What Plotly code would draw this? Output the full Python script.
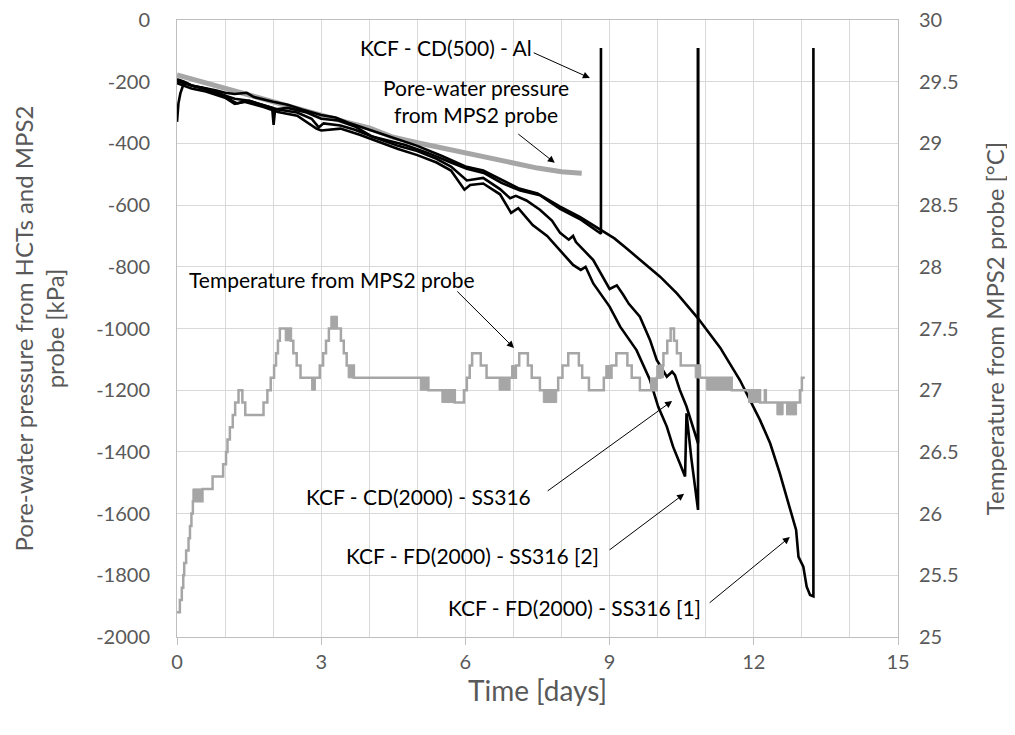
import plotly.graph_objects as go

# ---------------- data ----------------
# HCT pore-water pressure series (time in days, pressure in kPa)
cd500_day = [0, 0.03, 0.07, 0.12, 0.2, 0.35, 0.6, 0.9, 1.2, 1.5, 1.8, 1.98, 2.01, 2.04, 2.3, 2.7, 3.0, 3.36, 3.7,
             4.06, 4.75, 5.2, 5.7, 6.03, 6.4, 6.75, 7.14, 7.55, 7.97, 8.38, 8.82, 8.82]
cd500_kpa = [-330, -270, -238, -215, -205, -215, -225, -240, -255, -262, -275, -285, -340, -290, -285, -300, -320,
             -326, -345, -378, -405, -430, -462, -482, -497, -528, -553, -568, -612, -645, -693, -91]

fd1_day = [0, 0.15, 0.3, 0.5, 0.8, 1.0, 1.2, 1.45, 1.6, 2.0, 2.3, 2.6, 3.0, 3.3, 3.6, 4.0, 4.6, 5.0, 5.5, 6.0,
           6.37, 6.7, 7.1, 7.5, 7.97, 8.38, 8.8, 9.1, 9.35, 9.7, 10.05, 10.4, 10.84, 11.3, 11.71, 12.13, 12.34,
           12.54, 12.75, 12.88, 12.93, 13.03, 13.1, 13.17, 13.24, 13.24]
fd1_kpa = [-192, -200, -212, -218, -228, -236, -240, -236, -250, -265, -275, -290, -308, -316, -335, -356, -386,
           -408, -440, -475, -488, -515, -545, -562, -605, -638, -680, -708, -740, -785, -832, -886, -967, -1062,
           -1167, -1297, -1372, -1469, -1578, -1653, -1740, -1772, -1837, -1864, -1868, -91]

cd2000_day = [0, 0.3, 0.6, 1.0, 1.15, 1.25, 1.5, 1.8, 2.1, 2.5, 2.8, 2.95, 3.05, 3.4, 3.7, 4.1, 4.6, 5.0, 5.4,
              5.7, 6.03, 6.37, 6.72, 6.93, 7.05, 7.27, 7.55, 7.8, 7.97, 8.15, 8.24, 8.3, 8.66, 9.0, 9.15, 9.28,
              9.4, 9.63, 9.84, 9.98, 10.19, 10.3, 10.36, 10.46, 10.6, 10.84, 10.84]
cd2000_kpa = [-198, -212, -222, -245, -262, -270, -262, -275, -290, -300, -320, -348, -335, -342, -356, -380,
              -408, -425, -450, -475, -520, -512, -548, -578, -570, -585, -615, -650, -690, -712, -700, -720,
              -778, -872, -860, -890, -920, -962, -1037, -1102, -1156, -1140, -1151, -1199, -1253, -1372, -91]

fd2_day = [0, 0.3, 0.6, 1.0, 1.2, 1.4, 1.8, 2.1, 2.5, 2.9, 3.0, 3.4, 3.8, 4.2, 4.6, 5.0, 5.4, 5.7, 5.98, 6.1,
           6.37, 6.72, 6.95, 7.1, 7.4, 7.7, 7.97, 8.24, 8.4, 8.5, 8.66, 9.0, 9.22, 9.56, 9.84, 10.01, 10.19,
           10.32, 10.46, 10.57, 10.6, 10.7, 10.84, 10.84]
fd2_kpa = [-205, -222, -232, -252, -272, -265, -282, -298, -310, -352, -358, -352, -372, -395, -418, -438, -462,
           -488, -550, -535, -530, -565, -625, -610, -665, -700, -746, -794, -810, -800, -854, -929, -994, -1070,
           -1167, -1253, -1318, -1383, -1437, -1480, -1275, -1420, -1588, -91]

# MPS2 probe pore-water pressure
pwp_day = [0, 0.5, 1.0, 1.5, 2.0, 2.5, 3.0, 3.5, 4.0, 4.5, 5.0, 5.5, 6.0, 6.5, 7.0, 7.5, 8.0, 8.42]
pwp_kpa = [-178, -200, -222, -245, -265, -287, -308, -330, -350, -380, -398, -414, -430, -448, -465, -480, -492, -497]

# MPS2 probe temperature (step changes, value holds until next point)
temp_day = [0.00, 0.06, 0.10, 0.13, 0.15, 0.19, 0.24, 0.27, 0.30, 0.33, 0.53, 0.74, 0.96, 1.02, 1.05, 1.10, 1.16,
            1.21, 1.28, 1.36, 1.42, 1.80, 1.88, 1.95, 2.02, 2.06, 2.10, 2.14, 2.37, 2.42, 2.49, 2.57, 2.90, 2.97,
            3.04, 3.10, 3.16, 3.36, 3.41, 3.47, 3.53, 3.68, 5.23, 5.78, 5.97, 6.03, 6.09, 6.14, 6.32, 6.44, 6.93,
            7.05, 7.12, 7.30, 7.38, 7.55, 7.93, 8.02, 8.14, 8.36, 8.43, 8.57, 8.88, 9.04, 9.14, 9.37, 9.46, 9.63,
            9.98, 10.05, 10.12, 10.20, 10.27, 10.34, 10.40, 10.48, 10.88, 11.54, 12.13, 12.23, 12.25, 12.96,
            13.00, 13.06]
temp_val = [25.2, 25.3, 25.4, 25.5, 25.6, 25.7, 25.8, 25.9, 26.0, 26.1, 26.2, 26.3, 26.4, 26.5, 26.6, 26.7, 26.8,
            26.9, 27.0, 26.9, 26.8, 26.9, 27.0, 27.1, 27.2, 27.3, 27.4, 27.5, 27.4, 27.3, 27.2, 27.1, 27.1, 27.2,
            27.3, 27.4, 27.5, 27.5, 27.4, 27.3, 27.2, 27.1, 27.0, 26.9, 27.0, 27.1, 27.2, 27.3, 27.2, 27.1, 27.1,
            27.2, 27.3, 27.2, 27.1, 27.0, 27.1, 27.2, 27.3, 27.2, 27.1, 27.0, 27.1, 27.2, 27.3, 27.2, 27.1, 27.0,
            27.1, 27.2, 27.3, 27.4, 27.5, 27.4, 27.3, 27.2, 27.1, 27.0, 26.9, 27.0, 26.9, 27.0,
            27.1, 27.1]
# intervals where the temperature reading toggled rapidly between two adjacent levels (low, low + 0.1)
osc_start = [0.33, 2.25, 2.80, 3.20, 3.56, 5.06, 5.51, 6.70, 6.96, 7.62, 8.92, 9.85, 9.98, 10.78, 11.02, 11.89, 12.48, 12.68]
osc_end = [0.53, 2.35, 2.88, 3.34, 3.68, 5.23, 5.78, 6.93, 7.02, 7.90, 9.02, 9.98, 10.12, 10.88, 11.54, 12.13, 12.61, 12.89]
osc_low = [26.1, 27.4, 27.0, 27.5, 27.1, 27.0, 26.9, 27.0, 27.1, 26.9, 27.1, 27.0, 27.1, 27.1, 27.0, 26.9, 26.8, 26.8]
osc_step = 0.1

# axis ticks
x_ticks = [0, 3, 6, 9, 12, 15]
y_ticks = [-2000, -1800, -1600, -1400, -1200, -1000, -800, -600, -400, -200, 0]
y_tick_labels = ["-2000", "-1800", "-1600", "-1400", "-1200", "-1000", "-800", "-600", "-400", "-200", "0"]
y2_ticks = [25, 25.5, 26, 26.5, 27, 27.5, 28, 28.5, 29, 29.5, 30]
y2_tick_labels = ["25", "25.5", "26", "26.5", "27", "27.5", "28", "28.5", "29", "29.5", "30"]

# ---------------- figure ----------------
FONT = "Lato, 'Open Sans', sans-serif"
GRAY = "#a6a6a6"
GRID = "#d9d9d9"
AXL = "#bfbfbf"
TXT = "#595959"

fig = go.Figure()

# temperature oscillation blocks
for s, e, lo in zip(osc_start, osc_end, osc_low):
    fig.add_trace(go.Scatter(x=[s, e, e, s, s], y=[lo, lo, lo + osc_step, lo + osc_step, lo],
                             yaxis="y2", mode="lines", fill="toself", fillcolor=GRAY,
                             line=dict(color=GRAY, width=1), hoverinfo="skip", showlegend=False))
# temperature step line
fig.add_trace(go.Scatter(x=temp_day, y=temp_val, yaxis="y2", mode="lines", line_shape="hv",
                         line=dict(color=GRAY, width=2.5), showlegend=False, name="Temperature"))
# MPS2 pore-water pressure
fig.add_trace(go.Scatter(x=pwp_day, y=pwp_kpa, mode="lines", line=dict(color=GRAY, width=5),
                         showlegend=False, name="MPS2"))
# HCT series
for d, v, n in [(fd2_day, fd2_kpa, "KCF - FD(2000) - SS316 [2]"),
                (cd2000_day, cd2000_kpa, "KCF - CD(2000) - SS316"),
                (fd1_day, fd1_kpa, "KCF - FD(2000) - SS316 [1]"),
                (cd500_day, cd500_kpa, "KCF - CD(500) - Al")]:
    fig.add_trace(go.Scatter(x=d, y=v, mode="lines", line=dict(color="black", width=2.6),
                             showlegend=False, name=n))

# annotations: (text, text_x, text_y, tail_x, tail_y, head_x, head_y)
labels = [
    ("KCF - CD(500) - Al", 5.6, -88, 7.39, -104, 8.59, -188),
    ("Pore-water pressure<br>from MPS2 probe", 6.22, -263, 7.07, -366, 7.86, -463),
    ("Temperature from MPS2 probe", 3.22, -840, 5.8, -875, 7.01, -1063),
    ("KCF - CD(2000) - SS316", 5.03, -1543, 7.68, -1530, 10.3, -1235),
    ("KCF - FD(2000) - SS316 [2]", 6.14, -1737, 8.97, -1721, 10.55, -1536),
    ("KCF - FD(2000) - SS316 [1]", 8.26, -1903, 11.05, -1893, 12.75, -1676),
]
for t, tx, ty, ax_, ay_, hx, hy in labels:
    fig.add_annotation(x=tx, y=ty, xref="x", yref="y", text=t, showarrow=False,
                       font=dict(family=FONT, size=21, color="black"), align="center")
    fig.add_annotation(x=hx, y=hy, xref="x", yref="y", ax=ax_, ay=ay_, axref="x", ayref="y",
                       text="", showarrow=True, arrowhead=2, arrowsize=1.4, arrowwidth=1,
                       arrowcolor="black")

# the page body adds an 8 px offset, so margins are shifted to keep the plot area in place
fig.update_layout(
    width=1015, height=735,
    margin=dict(l=169, r=125, t=12, b=106, autoexpand=False),
    paper_bgcolor="white", plot_bgcolor="white",
    font=dict(family=FONT, color=TXT),
    xaxis=dict(range=[0, 15], tickvals=x_ticks, ticktext=[str(v) for v in x_ticks], automargin=False,
               showgrid=True, gridcolor=GRID, gridwidth=1, ticklabeloverflow="allow",
               minor=dict(dtick=1, showgrid=True, gridcolor=GRID, gridwidth=1),
               ticks="outside", ticklen=7, tickcolor=AXL,
               showline=True, linecolor=AXL, linewidth=1, mirror=True, zeroline=False,
               tickfont=dict(size=20, color=TXT),
               title=dict(text="Time [days]", font=dict(size=28, color=TXT), standoff=5)),
    yaxis=dict(range=[-2000, 0], tickvals=y_ticks, ticktext=y_tick_labels, automargin=False,
               showgrid=True, gridcolor=GRID, gridwidth=1, zeroline=False, ticklabeloverflow="allow",
               showline=True, linecolor=AXL, linewidth=1, ticks="", ticklabelstandoff=22,
               tickfont=dict(size=20, color=TXT),
               title=dict(text="Pore-water pressure from HCTs and MPS2<br>probe [kPa]",
                          font=dict(size=24, color=TXT), standoff=24)),
    yaxis2=dict(range=[25, 30], tickvals=y2_ticks, ticktext=y2_tick_labels, overlaying="y", side="right",
                automargin=False, ticklabeloverflow="allow",
                showgrid=False, zeroline=False, showline=True, linecolor=AXL, linewidth=1, ticks="",
                ticklabelstandoff=16,
                tickfont=dict(size=20, color=TXT),
                title=dict(text="Temperature from MPS2 probe [°C]", font=dict(size=24, color=TXT), standoff=29)),
)

fig.write_html("out.html")
